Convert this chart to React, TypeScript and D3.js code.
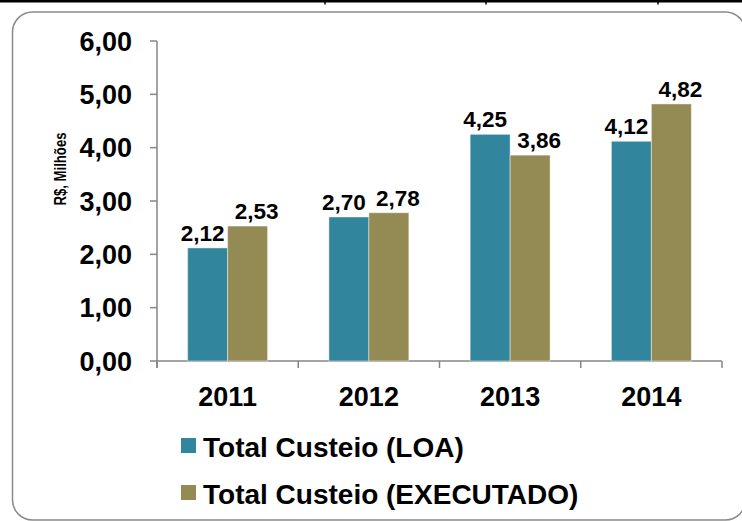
import React from "react";
import * as d3 from "d3";

const years = ["2011", "2012", "2013", "2014"];
const seriesNames = ["Total Custeio (LOA)", "Total Custeio (EXECUTADO)"];
const loaValues = [2.12, 2.7, 4.25, 4.12];
const executadoValues = [2.53, 2.78, 3.86, 4.82];
const yTickValues = [0, 1, 2, 3, 4, 5, 6];
const yAxisTitle = "R$, Milhões";
const colors = ["#31859C", "#948A54"];

const locale = d3.formatLocale({ decimal: ",", thousands: ".", grouping: [3], currency: ["R$", ""] });
const fmt = locale.format(".2f");

const W = 742;
const H = 521;
const FONT = "'Liberation Sans', Arial, Helvetica, sans-serif";

export default function App() {
  const left = 157;
  const right = 722;
  const top = 41;
  const bottom = 361;

  const x0 = d3.scaleBand<string>().domain(years).range([left, right]).padding(0);
  const step = x0.bandwidth();
  const groupW = step * 0.566;
  const x1 = d3.scaleBand<string>().domain(seriesNames).range([0, groupW]).padding(0);
  const y = d3.scaleLinear().domain([0, 6]).range([bottom, top]);

  const seriesValues = [loaValues, executadoValues];
  const labelDx = [-5, 9];

  const axisColor = "#868686";

  return (
    <svg
      width={W}
      height={H}
      style={{ position: "absolute", left: 0, top: 0, background: "#fff" }}
      fontFamily={FONT}
    >
      <rect x={0} y={0} width={W} height={H} fill="#fff" />
      {/* top table border */}
      <rect x={0} y={0} width={W} height={2.5} fill="#000" />
      {[325, 486, 658].map((xx) => (
        <line key={xx} x1={xx} x2={xx} y1={0} y2={4.5} stroke="#000" strokeWidth={1.5} />
      ))}
      {/* chart frame */}
      <rect x={12.5} y={12} width={733} height={508} rx={20} ry={20} fill="none" stroke="#8a8a8a" strokeWidth={1.5} />

      {/* y axis */}
      <line x1={left} x2={left} y1={top} y2={bottom + 7} stroke={axisColor} strokeWidth={1.5} />
      {yTickValues.map((t) => (
        <g key={t}>
          <line x1={left - 7} x2={left} y1={y(t)} y2={y(t)} stroke={axisColor} strokeWidth={1.5} />
          <text
            x={132}
            y={y(t)}
            dy="0.36em"
            textAnchor="end"
            fontSize={27}
            fontWeight="bold"
            fill="#000"
          >
            {fmt(t)}
          </text>
        </g>
      ))}
      <text
        transform={`translate(66, ${169}) rotate(-90)`}
        textAnchor="middle"
        fontSize={16.5}
        fontWeight="bold"
        textLength={73}
        lengthAdjust="spacingAndGlyphs"
        fill="#000"
      >
        {yAxisTitle}
      </text>

      {/* x axis */}
      <line x1={left} x2={right} y1={bottom} y2={bottom} stroke={axisColor} strokeWidth={1.5} />
      {[...years.map((yr) => x0(yr) as number), right].map((xx, i) => (
        <line key={i} x1={xx} x2={xx} y1={bottom} y2={bottom + 7} stroke={axisColor} strokeWidth={1.5} />
      ))}
      {years.map((yr) => (
        <text
          key={yr}
          x={(x0(yr) as number) + step / 2}
          y={406}
          textAnchor="middle"
          fontSize={27}
          fontWeight="bold"
          fill="#000"
        >
          {yr}
        </text>
      ))}

      {/* bars */}
      {years.map((yr, i) => {
        const gx = (x0(yr) as number) + (step - groupW) / 2;
        return (
          <g key={yr}>
            {seriesNames.map((s, j) => {
              const v = seriesValues[j][i];
              const bx = gx + (x1(s) as number);
              const bw = x1.bandwidth();
              return (
                <g key={s}>
                  <rect
                    x={bx}
                    y={y(v)}
                    width={bw}
                    height={y(0) - y(v)}
                    fill={colors[j]}
                    stroke="#ffffff"
                    strokeOpacity={0.45}
                    strokeWidth={1}
                  />
                  <text
                    x={bx + bw / 2 + labelDx[j]}
                    y={y(v) - 7}
                    textAnchor="middle"
                    fontSize={22.5}
                    fontWeight="bold"
                    fill="#000"
                  >
                    {fmt(v)}
                  </text>
                </g>
              );
            })}
          </g>
        );
      })}

      {/* legend */}
      {seriesNames.map((s, j) => (
        <g key={s} transform={`translate(181, ${438 + j * 47})`}>
          <rect x={0} y={0} width={15} height={15} fill={colors[j]} />
          <text x={22} y={19} fontSize={28} fontWeight="bold" fill="#000">
            {s}
          </text>
        </g>
      ))}
    </svg>
  );
}
